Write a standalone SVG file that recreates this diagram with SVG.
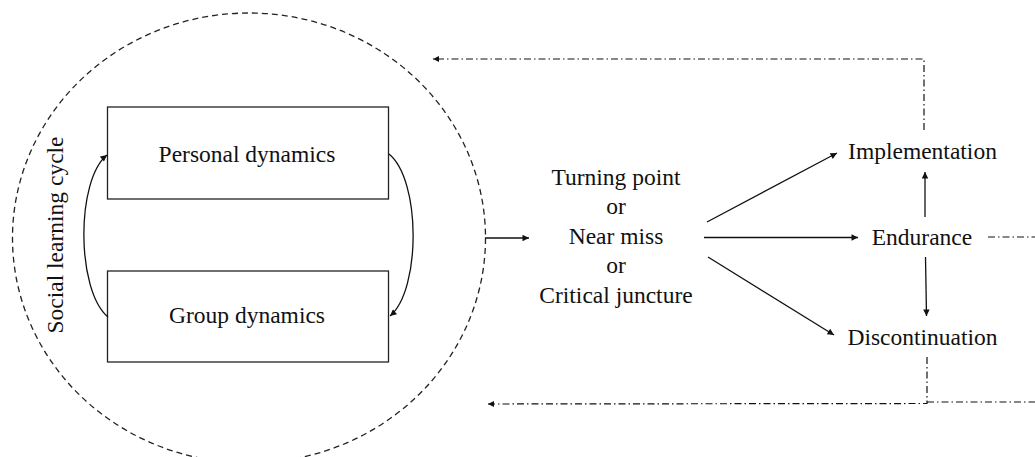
<svg xmlns="http://www.w3.org/2000/svg" width="1035" height="457" viewBox="0 0 1035 457">
  <defs>
    <marker id="ah" viewBox="0 0 10 10" refX="10" refY="5" markerWidth="8" markerHeight="6.5" markerUnits="userSpaceOnUse" orient="auto">
      <path d="M0,0 L10,5 L0,10 z" fill="#111"/>
    </marker>
    <marker id="ahs" viewBox="0 0 10 10" refX="10" refY="5" markerWidth="7" markerHeight="6" markerUnits="userSpaceOnUse" orient="auto">
      <path d="M0,0 L10,5 L0,10 z" fill="#111"/>
    </marker>
    <style>
      .lbl { font-family: "Liberation Serif", "Times New Roman", serif; font-size: 23.5px; fill: #111; text-anchor: middle; }
      .box { fill: #fff; stroke: #222; stroke-width: 1.3; }
      .arr { fill: none; stroke: #111; stroke-width: 1.3; marker-end: url(#ah); }
      .dd { fill: none; stroke: #111; stroke-width: 1.2; stroke-dasharray: 7 3 1.5 3; }
      .ring { fill: none; stroke: #222; stroke-width: 1.3; stroke-dasharray: 6 4; }
    </style>
  </defs>
  <rect width="1035" height="457" fill="#fff"/>

  <g id="social-learning-cycle">
    <ellipse class="ring" cx="249" cy="238" rx="236.5" ry="225"/>
    <text class="lbl" transform="translate(63,235) rotate(-90)">Social learning cycle</text>
  </g>

  <g id="personal-dynamics">
    <rect class="box" x="107.5" y="107" width="281" height="92"/>
    <text class="lbl" x="247" y="162">Personal dynamics</text>
  </g>

  <g id="group-dynamics">
    <rect class="box" x="107.5" y="271" width="281" height="91"/>
    <text class="lbl" x="247" y="323">Group dynamics</text>
  </g>

  <g id="turning-point">
    <text class="lbl" x="616" y="185">Turning point</text>
    <text class="lbl" x="616" y="214">or</text>
    <text class="lbl" x="616" y="244">Near miss</text>
    <text class="lbl" x="616" y="273">or</text>
    <text class="lbl" x="616" y="303">Critical juncture</text>
  </g>

  <g id="implementation">
    <text class="lbl" x="922.5" y="159">Implementation</text>
  </g>

  <g id="endurance">
    <text class="lbl" x="922" y="245">Endurance</text>
  </g>

  <g id="discontinuation">
    <text class="lbl" x="922.5" y="345">Discontinuation</text>
  </g>

  <g id="connectors">
    <path class="arr" d="M108,317 C76,290 76,180 107,155"/>
    <path class="arr" d="M389,154 C421,180 421,290 390,316"/>
    <path class="arr" d="M485,238 L529,238"/>
    <path class="arr" d="M707,222 L837,153"/>
    <path class="arr" d="M704,237.5 L858,237.5"/>
    <path class="arr" d="M708,257 L834,335"/>
    <path class="arr" d="M925,217 L925,172"/>
    <path class="arr" d="M925.5,257 L926.5,316"/>
    <path class="dd" d="M924,130 L924,59 L433,59" marker-end="url(#ahs)"/>
    <path class="dd" d="M988,237 L1035,237"/>
    <path class="dd" d="M927,357 L927,403.5 L488,404" marker-end="url(#ahs)"/>
    <path class="dd" d="M927,402 L1035,402"/>
  </g>
</svg>
